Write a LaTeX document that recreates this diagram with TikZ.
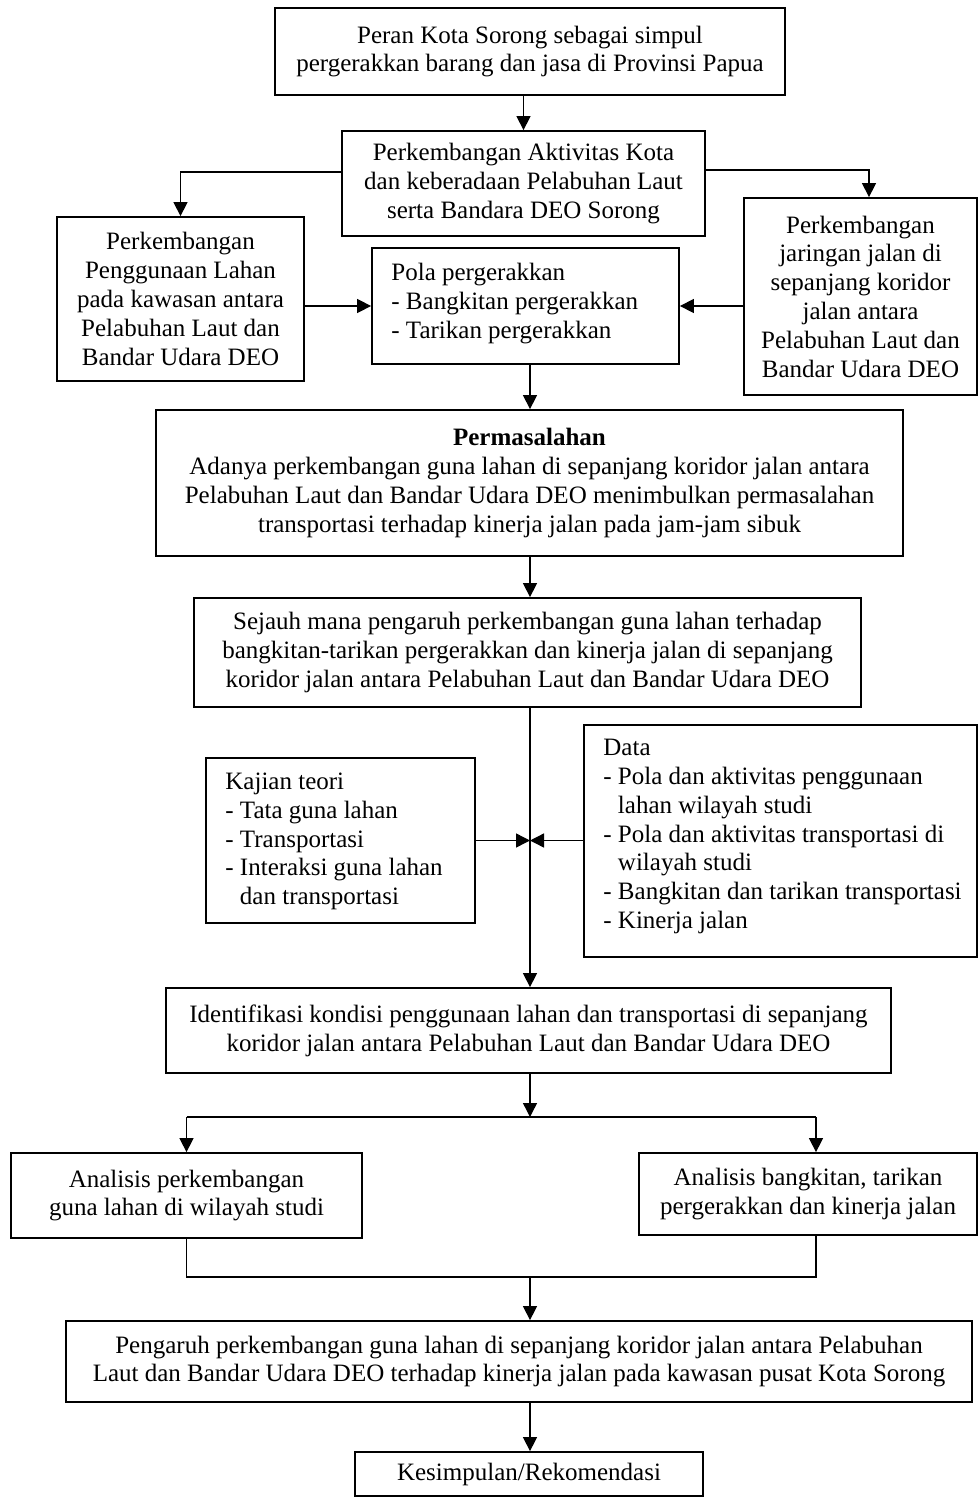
\documentclass[tikz,border=0pt]{standalone}
\usepackage{fontspec}
\setmainfont{Liberation Serif}
\usetikzlibrary{arrows.meta,calc}
\begin{document}
\begin{tikzpicture}[x=0.5pt,y=-0.5pt,
  fnt/.style={font=\fontsize{12.5}{14.4}\selectfont},
  box/.style={draw, line width=0.9pt, inner sep=0pt, align=center, fnt},
  txt/.style={inner sep=0pt, align=left, anchor=west, fnt},
  arr/.style={line width=0.7pt, -{Triangle[length=7pt,width=7pt]}},
  ln/.style={line width=0.7pt}]
\useasboundingbox (0,0) rectangle (979,1498);

\node[box, minimum width=255pt, minimum height=43.5pt] (B1) at (530,51.5)
  {Peran Kota Sorong sebagai simpul\\pergerakkan barang dan jasa di Provinsi Papua};
\node[box, minimum width=181.5pt, minimum height=52.5pt] (B2) at (523.5,183.5)
  {Perkembangan Aktivitas Kota\\dan keberadaan Pelabuhan Laut\\serta Bandara DEO Sorong};
\node[box, minimum width=123.5pt, minimum height=82pt] (BL) at (180.5,299)
  {Perkembangan\\Penggunaan Lahan\\pada kawasan antara\\Pelabuhan Laut dan\\Bandar Udara DEO};
\node[box, minimum width=116.5pt, minimum height=98.5pt] (BR) at (860.5,296.5)
  {Perkembangan\\jaringan jalan di\\sepanjang koridor\\jalan antara\\Pelabuhan Laut dan\\Bandar Udara DEO};
\node[box, minimum width=153.5pt, minimum height=58pt] (P) at (525.5,306) {};
\node[txt] (Pt) at (391,303.5)
  {Pola pergerakkan\\- Bangkitan pergerakkan\\- Tarikan pergerakkan};
\node[box, minimum width=373.5pt, minimum height=73pt] (Perm) at (529.5,483)
  {\textbf{Permasalahan}\\Adanya perkembangan guna lahan di sepanjang koridor jalan antara\\Pelabuhan Laut dan Bandar Udara DEO menimbulkan permasalahan\\transportasi terhadap kinerja jalan pada jam-jam sibuk};
\node[box, minimum width=333.5pt, minimum height=54.5pt] (S) at (527.5,652.5)
  {Sejauh mana pengaruh perkembangan guna lahan terhadap\\bangkitan-tarikan pergerakkan dan kinerja jalan di sepanjang\\koridor jalan antara Pelabuhan Laut dan Bandar Udara DEO};
\node[box, minimum width=134.5pt, minimum height=82.5pt] (K) at (340.5,840.5) {};
\node[txt] (Kt) at (225,841.5)
  {Kajian teori\\- Tata guna lahan\\- Transportasi\\- Interaksi guna lahan\\\hphantom{- }dan transportasi};
\node[box, minimum width=196.5pt, minimum height=116pt] (D) at (780.5,841) {};
\node[txt] (Dt) at (603,836.5)
  {Data\\- Pola dan aktivitas penggunaan\\\hphantom{- }lahan wilayah studi\\- Pola dan aktivitas transportasi di\\\hphantom{- }wilayah studi\\- Bangkitan dan tarikan transportasi\\- Kinerja jalan};
\node[box, minimum width=362.5pt, minimum height=42.5pt] (I) at (528.5,1030.5)
  {Identifikasi kondisi penggunaan lahan dan transportasi di sepanjang\\koridor jalan antara Pelabuhan Laut dan Bandar Udara DEO};
\node[box, minimum width=175.5pt, minimum height=42.5pt] (AL) at (186.5,1195.5)
  {Analisis perkembangan\\guna lahan di wilayah studi};
\node[box, minimum width=169pt, minimum height=41pt] (AR) at (808,1194)
  {Analisis bangkitan, tarikan\\pergerakkan dan kinerja jalan};
\node[box, minimum width=453pt, minimum height=40.5pt] (G) at (519,1361.5)
  {Pengaruh perkembangan guna lahan di sepanjang koridor jalan antara Pelabuhan\\Laut dan Bandar Udara DEO terhadap kinerja jalan pada kawasan pusat Kota Sorong};
\node[box, minimum width=174pt, minimum height=22pt] (Kes) at (529,1474)
  {Kesimpulan/Rekomendasi};

\coordinate (sp) at (530,0);
\coordinate (c1) at (0,172);
\coordinate (c2) at (869,170);
\coordinate (br) at (530,1117);
\coordinate (c3) at (816,1117);
\coordinate (jn) at (530,1277);

\draw[arr] (B1.south -| B2.north) -- (B2.north);
\draw[arr] (B2.west |- c1) -| (BL.north);
\draw[arr] (B2.east |- c2) -| (BR.north -| c2);
\draw[arr] (BL.east |- P.west) -- (P.west);
\draw[arr] (BR.west |- P.east) -- (P.east);
\draw[arr] (P.south -| sp) -- (Perm.north -| sp);
\draw[arr] (Perm.south -| sp) -- (S.north -| sp);
\draw[arr] (S.south -| sp) -- (I.north -| sp);
\draw[arr] (K.east) -- (K.east -| sp);
\draw[arr] (D.west |- K.east) -- (K.east -| sp);
\draw[arr] (I.south -| sp) -- (br);
\draw[ln] (AL.north |- br) -- (c3);
\draw[arr] (AL.north |- br) -- (AL.north);
\draw[arr] (c3) -- (AR.north -| c3);
\draw[ln] (AL.south) -- (AL.south |- jn) -- (c3 |- jn) -- (AR.south -| c3);
\draw[arr] (jn) -- (G.north -| sp);
\draw[arr] (G.south -| sp) -- (Kes.north -| sp);
\end{tikzpicture}
\end{document}
